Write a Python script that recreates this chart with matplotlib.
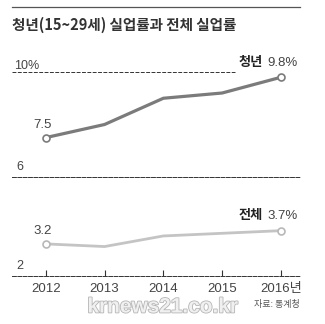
"""Youth vs total unemployment rate, two stacked panels."""
import matplotlib.pyplot as plt
import matplotlib.patheffects as pe

years = [2012, 2013, 2014, 2015, 2016]
year_labels = ["2012", "2013", "2014", "2015", "2016년"]
youth = [7.5, 8.0, 9.0, 9.2, 9.8]
total = [3.2, 3.1, 3.5, 3.6, 3.7]

W, H = 325, 324
NUM = ["Liberation Sans", "Noto Sans CJK KR", "DejaVu Sans"]
KR = ["Noto Sans CJK KR", "DejaVu Sans"]
plt.rcParams["font.family"] = NUM


def px_axes(fig, left, top, right, bottom):
    """Axes placed with pixel edges measured from the top-left corner."""
    return fig.add_axes([left / W, 1 - bottom / H, (right - left) / W, (bottom - top) / H])


fig = plt.figure(figsize=(W / 100, H / 100), dpi=100)
fig.patch.set_facecolor("white")

# header rule and title
fig.add_artist(plt.Line2D([12 / W, 300 / W], [1 - 7 / H, 1 - 7 / H], color="#555555", lw=0.9))
fig.text(12 / W, 1 - 25 / H, "청년(15~29세) 실업률과 전체 실업률", family=KR,
         fontsize=10.5, fontweight="bold", color="#333333", va="center", ha="left")

xlim = (2012 - 33.7 / 58.8, 2016 + 19 / 58.8)
dash = (0, (4, 1.5))

# youth panel: 6 at y=177px, 10 at y=72px
ax1 = px_axes(fig, 12, 55, 300, 177)
ax1.set_xlim(*xlim)
ax1.set_ylim(6, 10 + 17 / 26.25)
ax1.axhline(10, xmin=0, xmax=(235 - 12) / 288, color="#333333", lw=0.7, ls=dash)
ax1.plot(years, youth, color="#7b7b7b", lw=2.3, solid_capstyle="round", zorder=3)
ax1.plot(years[::4], youth[::4], "o", ms=5, mfc="white", mec="#7b7b7b", mew=1.2, zorder=4)
ax1.text(xlim[0] + 0.03, 10, "10%", fontsize=9, color="#444444", va="bottom", ha="left")
ax1.text(xlim[0] + 0.07, 6.15, "6", fontsize=9, color="#444444", va="bottom", ha="left")
ax1.annotate(f"{youth[0]}", (years[0], youth[0]), xytext=(-2, 5), textcoords="offset points",
             fontsize=9.5, color="#444444", ha="center", va="bottom")
ax1.annotate(f"{youth[-1]}%", (years[-1], youth[-1]), xytext=(12, 6), textcoords="offset points",
             fontsize=9.5, color="#444444", ha="right", va="bottom")
ax1.annotate("청년", (years[-1], youth[-1]), xytext=(-13, 6), textcoords="offset points",
             family=KR, fontsize=9.5, fontweight="bold", color="#222222", ha="right", va="bottom")

# total panel: 2 at y=275.7px
ax2 = px_axes(fig, 12, 215, 300, 275.7)
ax2.set_xlim(*xlim)
ax2.set_ylim(2, 2 + 60.7 / 26.5)
ax2.plot(years, total, color="#c4c4c4", lw=2.0, solid_capstyle="round", zorder=3)
ax2.plot(years[::4], total[::4], "o", ms=5, mfc="white", mec="#b8b8b8", mew=1.2, zorder=4)
ax2.text(xlim[0] + 0.07, 2.15, "2", fontsize=9, color="#444444", va="bottom", ha="left")
ax2.annotate(f"{total[0]}", (years[0], total[0]), xytext=(-2, 5), textcoords="offset points",
             fontsize=9.5, color="#444444", ha="center", va="bottom")
ax2.annotate(f"{total[-1]}%", (years[-1], total[-1]), xytext=(12, 6), textcoords="offset points",
             fontsize=9.5, color="#444444", ha="right", va="bottom")
ax2.annotate("전체", (years[-1], total[-1]), xytext=(-13, 6), textcoords="offset points",
             family=KR, fontsize=9.5, fontweight="bold", color="#222222", ha="right", va="bottom")

for ax in (ax1, ax2):
    ax.set_facecolor("none")
    for side in ("top", "left", "right"):
        ax.spines[side].set_visible(False)
    ax.spines["bottom"].set_linestyle(dash)
    ax.spines["bottom"].set_linewidth(0.7)
    ax.spines["bottom"].set_color("#333333")
    ax.set_yticks([])

ax1.set_xticks([])
ax2.set_xticks(years)
ax2.set_xticklabels(year_labels, fontsize=9.5, color="#444444")
ax2.tick_params(axis="x", direction="in", length=4, width=0.8, color="#333333", pad=5)

# watermark and source
fig.text(163 / W, 1 - 307 / H, "krnews21.co.kr", fontsize=15, fontweight="bold",
         color="#f0f0f0", ha="center", va="center", family=["Liberation Sans", "DejaVu Sans"],
         path_effects=[pe.withStroke(linewidth=1.2, foreground="#b5b5b5")], zorder=0)
fig.text(300 / W, 1 - 305 / H, "자료: 통계청", family=KR, fontsize=6.5,
         color="#555555", ha="right", va="center")

fig.savefig("out.png", dpi=100)
